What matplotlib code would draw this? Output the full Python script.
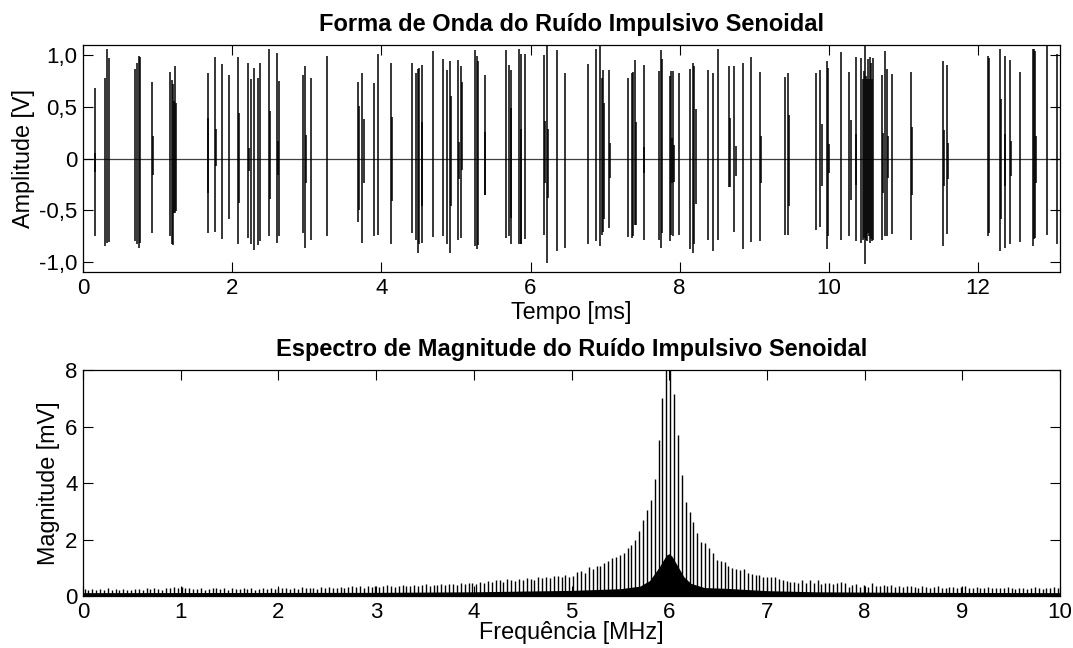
import numpy as np
import matplotlib
matplotlib.use('Agg')
from matplotlib import pyplot as plt

plt.rcParams['font.family'] = ['Liberation Sans', 'DejaVu Sans']

# impulse bursts: time [ms], positive peak [V], negative peak [V]
burst_ms = [
    0.157, 0.165, 0.291, 0.318, 0.349, 0.702, 0.725, 0.747, 0.770, 0.926,
    0.940, 1.168, 1.190, 1.212, 1.226, 1.239, 1.253, 1.669, 1.682, 1.772,
    1.785, 1.857, 1.960, 2.081, 2.094, 2.210, 2.228, 2.251, 2.286, 2.340,
    2.371, 2.492, 2.506, 2.600, 2.613, 2.631, 2.949, 2.975, 2.989, 3.056,
    3.266, 3.687, 3.705, 3.741, 3.763, 3.906, 3.955, 4.130, 4.139, 4.416,
    4.470, 4.488, 4.501, 4.541, 4.550, 4.694, 4.828, 4.877, 4.922, 4.935,
    5.029, 5.038, 5.069, 5.083, 5.262, 5.284, 5.302, 5.383, 5.392, 5.673,
    5.709, 5.736, 5.745, 5.852, 5.866, 5.879, 5.924, 6.179, 6.188, 6.224,
    6.237, 6.358, 6.461, 6.774, 6.882, 6.931, 6.958, 6.971, 6.984, 7.051,
    7.060, 7.311, 7.356, 7.374, 7.405, 7.418, 7.517, 7.526, 7.727, 7.754,
    7.767, 7.870, 7.888, 7.897, 7.910, 7.924, 7.996, 8.134, 8.179, 8.197,
    8.215, 8.380, 8.447, 8.519, 8.667, 8.676, 8.734, 8.752, 8.846, 8.953,
    9.074, 9.087, 9.414, 9.459, 9.472, 9.826, 9.888, 9.902, 9.969, 9.991,
    10.005, 10.157, 10.277, 10.291, 10.358, 10.367, 10.438, 10.452, 10.465, 10.479,
    10.492, 10.506, 10.519, 10.532, 10.546, 10.559, 10.573, 10.591, 10.711, 10.725,
    10.756, 10.774, 10.792, 10.846, 11.105, 11.114, 11.530, 11.539, 11.579, 11.597,
    12.130, 12.152, 12.300, 12.313, 12.358, 12.367, 12.425, 12.443, 12.564, 12.734,
    12.752, 12.765, 12.779, 12.922, 13.056,
]
burst_top_v = [
    0.68, 0.05, 0.78, 1.06, 0.97, 0.87, 0.93, 0.99, 0.98, 0.74,
    0.22, 0.84, 0.76, 0.72, 0.56, 0.90, 0.54, 0.83, 0.39, 0.98,
    0.29, 0.92, 0.81, 0.98, 0.44, 0.93, 0.10, 0.77, 0.88, 0.78,
    0.93, 1.06, 0.46, 1.02, 0.17, 0.75, 0.81, 0.90, 0.23, 0.78,
    0.99, 0.74, 0.51, 0.83, 0.38, 0.73, 1.01, 0.93, 0.40, 0.93,
    0.83, 0.87, 0.88, 0.91, 0.35, 1.04, 0.96, 0.86, 0.94, 0.61,
    0.95, 0.16, 0.90, 0.74, 1.05, 0.99, 0.94, 0.81, 0.26, 1.05,
    0.91, 0.86, 0.49, 1.06, 0.29, 1.01, 1.01, 1.00, 0.36, 1.12,
    0.29, 1.05, 0.83, 0.92, 1.06, 1.12, 0.78, 0.86, 0.54, 0.86,
    0.15, 0.78, 0.83, 0.84, 0.95, 0.35, 0.91, 0.11, 0.85, 1.05,
    0.96, 0.80, 0.85, 0.20, 0.85, 0.13, 0.83, 0.87, 0.93, 0.90,
    0.48, 0.86, 0.83, 1.06, 0.90, 0.39, 0.90, 0.12, 0.93, 0.98,
    0.84, 0.22, 0.79, 0.83, 0.42, 0.83, 0.86, 0.33, 0.94, 0.88,
    0.14, 1.03, 0.84, 0.37, 0.98, 0.24, 0.97, 0.77, 0.85, 1.09,
    0.80, 0.77, 0.96, 0.77, 0.98, 0.93, 0.77, 0.97, 0.81, 0.25,
    1.04, 0.87, 0.22, 0.82, 0.84, 0.31, 0.94, 0.28, 0.91, 0.15,
    0.99, 0.97, 1.06, 0.58, 0.99, 0.24, 0.95, 0.17, 0.84, 1.06,
    1.06, 1.04, 0.22, 1.12, 1.01,
]
burst_bottom_v = [
    -0.75, -0.13, -0.85, -0.82, -0.81, -0.80, -0.83, -0.87, -0.82, -0.72,
    -0.16, -0.75, -0.83, -0.84, -0.53, -0.53, -0.51, -0.72, -0.33, -0.71,
    -0.07, -0.78, -0.59, -0.83, -0.43, -0.77, -0.12, -0.83, -0.89, -0.84,
    -0.80, -0.75, -0.39, -0.82, -0.16, -0.75, -0.72, -0.87, -0.24, -0.79,
    -0.75, -0.62, -0.50, -0.82, -0.24, -0.75, -0.74, -0.83, -0.41, -0.72,
    -0.79, -0.92, -0.83, -0.82, -0.46, -0.76, -0.75, -0.83, -0.92, -0.46,
    -0.79, -0.20, -0.77, -0.11, -0.85, -0.88, -0.84, -0.35, -0.35, -0.77,
    -0.75, -0.83, -0.58, -0.83, -0.83, -0.83, -0.78, -0.74, -0.24, -1.01,
    -0.38, -0.90, -0.87, -0.83, -0.80, -0.85, -0.74, -0.71, -0.59, -0.67,
    -0.19, -0.76, -0.77, -0.75, -0.64, -0.64, -0.79, -0.14, -0.79, -0.87,
    -0.72, -0.80, -0.74, -0.24, -0.75, -0.23, -0.74, -0.88, -0.92, -0.83,
    -0.44, -0.79, -0.90, -0.79, -0.28, -0.28, -0.71, -0.17, -0.88, -0.81,
    -0.80, -0.24, -0.74, -0.74, -0.46, -0.69, -0.66, -0.27, -0.88, -0.75,
    -0.14, -0.79, -0.75, -0.40, -0.80, -0.26, -0.82, -0.79, -0.77, -1.02,
    -0.79, -0.80, -0.72, -0.75, -0.82, -0.78, -0.80, -0.79, -0.79, -0.33,
    -0.75, -0.75, -0.19, -0.73, -0.79, -0.35, -0.85, -0.27, -0.73, -0.20,
    -0.75, -0.72, -0.90, -0.59, -0.87, -0.27, -0.83, -0.17, -0.81, -0.85,
    -0.78, -0.77, -0.24, -0.74, -0.83,
]

# spectral lines: first line [MHz], line spacing [MHz], magnitudes [mV]
line_start_mhz = 0.0153
line_step_mhz = 0.0397
line_mv = [
    0.24, 0.22, 0.26, 0.21, 0.25, 0.23, 0.27, 0.22, 0.24, 0.20, 0.25, 0.23, 0.21,
    0.26, 0.24, 0.22, 0.28, 0.25, 0.30, 0.26, 0.23, 0.27, 0.29, 0.31, 0.27,
    0.33, 0.27, 0.30, 0.25, 0.24, 0.28, 0.22, 0.26, 0.30, 0.27, 0.25, 0.29, 0.23,
    0.27, 0.26, 0.24, 0.28, 0.25, 0.27, 0.23, 0.26, 0.29, 0.24, 0.27, 0.25, 0.28,
    0.28, 0.30, 0.26, 0.29, 0.25, 0.31, 0.27, 0.30, 0.28, 0.26, 0.32, 0.29, 0.31,
    0.27, 0.30, 0.33, 0.29, 0.32, 0.35, 0.31, 0.34, 0.30, 0.37, 0.33, 0.36,
    0.32, 0.35, 0.38, 0.34, 0.31, 0.36, 0.39, 0.35, 0.37, 0.40, 0.36, 0.38, 0.42,
    0.37, 0.40, 0.38, 0.43, 0.39, 0.41, 0.44, 0.40, 0.46, 0.42, 0.45, 0.47,
    0.44, 0.50, 0.46, 0.52, 0.48, 0.55, 0.58, 0.51, 0.60, 0.56, 0.54, 0.62, 0.58,
    0.65, 0.60, 0.57, 0.66, 0.63, 0.68, 0.64, 0.72, 0.70, 0.69, 0.74, 0.67,
    0.71, 0.86, 0.90, 0.83, 1.04, 0.94, 1.06, 1.06, 1.18, 1.25, 1.33, 1.37, 1.45,
    1.53, 1.69, 1.81, 1.98, 2.31, 2.69, 3.04, 3.40, 4.13, 5.52, 7.00, 8.40, 8.20,
    7.15, 5.70, 4.28, 3.34, 2.99, 2.63, 2.22, 1.92, 1.86, 1.69, 1.51, 1.27, 1.25,
    1.22, 1.06, 0.98, 0.94, 0.92, 0.94, 0.83, 0.78, 0.74, 0.74, 0.66, 0.68, 0.66,
    0.66, 0.59, 0.57, 0.54, 0.51, 0.51, 0.45, 0.57, 0.45, 0.57,
    0.45, 0.55, 0.43, 0.45, 0.45, 0.43, 0.45, 0.48, 0.45, 0.33, 0.39, 0.43,
    0.33, 0.39, 0.33, 0.45, 0.36, 0.34, 0.40, 0.35, 0.38, 0.33, 0.36, 0.31,
    0.34, 0.37, 0.32, 0.30, 0.35, 0.33, 0.29, 0.32, 0.34, 0.30, 0.28, 0.31,
    0.33, 0.29, 0.31, 0.35, 0.30, 0.28, 0.32, 0.29, 0.27, 0.31, 0.28, 0.30,
    0.27, 0.29, 0.32, 0.28, 0.26, 0.30, 0.27, 0.25, 0.29, 0.31, 0.27, 0.26,
    0.30, 0.28, 0.32, 0.29,
]

# continuous floor under the lines
floor_mhz = [0.0, 3.0, 4.0, 5.0, 5.5, 5.7, 5.8, 5.9, 5.97, 6.0, 6.03, 6.1,
             6.15, 6.22, 6.36, 6.6, 7.0, 7.5, 8.5, 10.0]
floor_mv = [0.12, 0.13, 0.15, 0.20, 0.26, 0.35, 0.55, 1.04, 1.45, 1.50, 1.40, 0.98,
            0.68, 0.45, 0.30, 0.27, 0.19, 0.15, 0.13, 0.12]

time_ticks = [0, 2, 4, 6, 8, 10, 12]
amp_ticks = [-1.0, -0.5, 0.0, 0.5, 1.0]
amp_labels = ['-1,0', '-0,5', '0', '0,5', '1,0']
freq_ticks = list(range(11))
mag_ticks = [0, 2, 4, 6, 8]


def style_axes(ax):
    ax.tick_params(direction='in', top=True, right=True, length=7, width=0.8,
                   labelsize=16, pad=4, colors='k')
    for s in ax.spines.values():
        s.set_linewidth(0.9)


fig = plt.figure(figsize=(10.73, 6.48), dpi=100)

ax1 = fig.add_axes([0.0774, 0.5802, 0.9105, 0.3504])
ax1.axhline(0, color='0.25', lw=0.9, zorder=1)
ax1.vlines(burst_ms, burst_bottom_v, burst_top_v, colors='k', lw=1.1, zorder=2)
ax1.set_xlim(0, 13.1)
ax1.set_ylim(-1.1, 1.1)
ax1.set_xticks(time_ticks)
ax1.set_yticks(amp_ticks)
ax1.set_yticklabels(amp_labels)
style_axes(ax1)
ax1.set_title('Forma de Onda do Ruído Impulsivo Senoidal', fontsize=17,
              fontweight='bold', pad=10)
ax1.set_xlabel('Tempo [ms]', fontsize=16.8, labelpad=2)
ax1.set_ylabel('Amplitude [V]', fontsize=16.8, labelpad=3)

ax2 = fig.add_axes([0.0774, 0.0802, 0.9105, 0.3488])
line_mhz = line_start_mhz + line_step_mhz * np.arange(len(line_mv))
ax2.fill_between(floor_mhz, 0, floor_mv, color='k', lw=0, zorder=1)
ax2.vlines(line_mhz, 0, line_mv, colors='k', lw=1.0, zorder=2)
ax2.set_xlim(0, 10)
ax2.set_ylim(0, 8)
ax2.set_xticks(freq_ticks)
ax2.set_yticks(mag_ticks)
style_axes(ax2)
ax2.set_title('Espectro de Magnitude do Ruído Impulsivo Senoidal', fontsize=17,
              fontweight='bold', pad=10)
ax2.set_xlabel('Frequência [MHz]', fontsize=16.8, labelpad=-1)
ax2.set_ylabel('Magnitude [mV]', fontsize=16.8, labelpad=4)

fig.savefig('out.png', dpi=100)
